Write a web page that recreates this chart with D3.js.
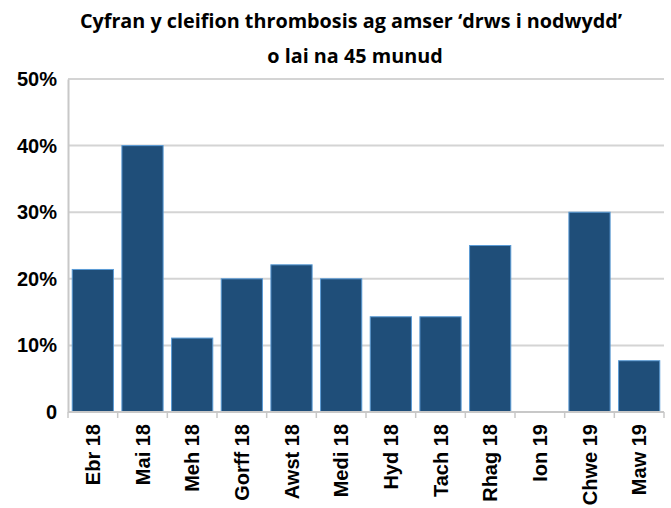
<!DOCTYPE html>
<html>
<head>
<meta charset="utf-8">
<script src="https://cdn.jsdelivr.net/npm/d3@7"></script>
<style>
  body { margin: 0; background: #fff; }
</style>
</head>
<body>
<script>
var WIDTH = 671;
var HEIGHT = 508;

var months = ['Ebr 18','Mai 18','Meh 18','Gorff 18','Awst 18','Medi 18','Hyd 18','Tach 18','Rhag 18','Ion 19','Chwe 19','Maw 19'];
var share = [21.4, 40, 11.1, 20, 22.1, 20, 14.3, 14.3, 25, 0, 30, 7.7];
var yTicks = [0, 10, 20, 30, 40, 50];
var titleLines = ['Cyfran y cleifion thrombosis ag amser \u2018drws i nodwydd\u2019', 'o lai na 45 munud'];

var plotLeft = 68, plotRight = 664, plotTop = 79, plotBottom = 412;

var svg = d3.select('body').append('svg')
    .attr('width', WIDTH)
    .attr('height', HEIGHT);

var x = d3.scaleBand()
    .domain(months)
    .range([plotLeft, plotRight])
    .paddingInner(0.17)
    .paddingOuter(0.085);

var y = d3.scaleLinear()
    .domain([0, 50])
    .range([plotBottom, plotTop]);

// title
svg.selectAll('text.title')
    .data(titleLines)
    .enter()
    .append('text')
    .attr('class', 'title')
    .attr('x', function(d, i) { return i ? 355 : 351; })
    .attr('y', function(d, i) { return 28 + i * 35; })
    .attr('text-anchor', 'middle')
    .style('font-family', '"Open Sans", sans-serif')
    .style('font-weight', 'bold')
    .style('font-size', '19.8px')
    .text(function(d) { return d; });

// gridlines
svg.selectAll('line.grid')
    .data(yTicks.filter(function(d) { return d > 0; }))
    .enter()
    .append('line')
    .attr('class', 'grid')
    .attr('x1', plotLeft)
    .attr('x2', plotRight)
    .attr('y1', function(d) { return y(d); })
    .attr('y2', function(d) { return y(d); })
    .attr('stroke', '#d4d4d4')
    .attr('stroke-width', 2);

// y axis
var yAxis = svg.append('g')
    .attr('transform', 'translate(' + plotLeft + ',0)')
    .call(d3.axisLeft(y).tickValues(yTicks).tickSize(0).tickPadding(11)
        .tickFormat(function(d) { return d === 0 ? '0' : d + '%'; }));
yAxis.select('.domain').attr('stroke', '#c8c8c8').attr('stroke-width', 2);
yAxis.selectAll('text')
    .style('font-family', '"Liberation Sans", Arial, sans-serif')
    .style('font-weight', 'bold')
    .style('font-size', '20px')
    .attr('fill', '#000');

// bars
svg.selectAll('rect.bar')
    .data(share)
    .enter()
    .append('rect')
    .attr('class', 'bar')
    .attr('x', function(d, i) { return x(months[i]); })
    .attr('y', function(d) { return y(d); })
    .attr('width', x.bandwidth())
    .attr('height', function(d) { return plotBottom - y(d); })
    .attr('fill', '#1f4e79')
    .attr('stroke', function(d) { return d > 0 ? '#5b9bd5' : 'none'; })
    .attr('stroke-width', 1);

// x axis
var edges = d3.range(months.length + 1).map(function(i) { return plotLeft + i * (plotRight - plotLeft) / months.length; });
var xAxis = svg.append('g');
xAxis.append('line')
    .attr('x1', plotLeft).attr('x2', plotRight)
    .attr('y1', plotBottom).attr('y2', plotBottom)
    .attr('stroke', '#c8c8c8').attr('stroke-width', 2);
xAxis.selectAll('line.tick')
    .data(edges)
    .enter()
    .append('line')
    .attr('class', 'tick')
    .attr('x1', function(d) { return d; }).attr('x2', function(d) { return d; })
    .attr('y1', plotBottom).attr('y2', plotBottom + 6)
    .attr('stroke', '#c8c8c8').attr('stroke-width', 1.5);
xAxis.selectAll('text')
    .data(months)
    .enter()
    .append('text')
    .attr('transform', function(d) {
        return 'translate(' + (x(d) + x.bandwidth() / 2 + 7) + ',' + (plotBottom + 12) + ') rotate(-90)';
    })
    .attr('text-anchor', 'end')
    .style('font-family', '"Liberation Sans", Arial, sans-serif')
    .style('font-weight', 'bold')
    .style('font-size', '20px')
    .text(function(d) { return d; });
</script>
</body>
</html>
